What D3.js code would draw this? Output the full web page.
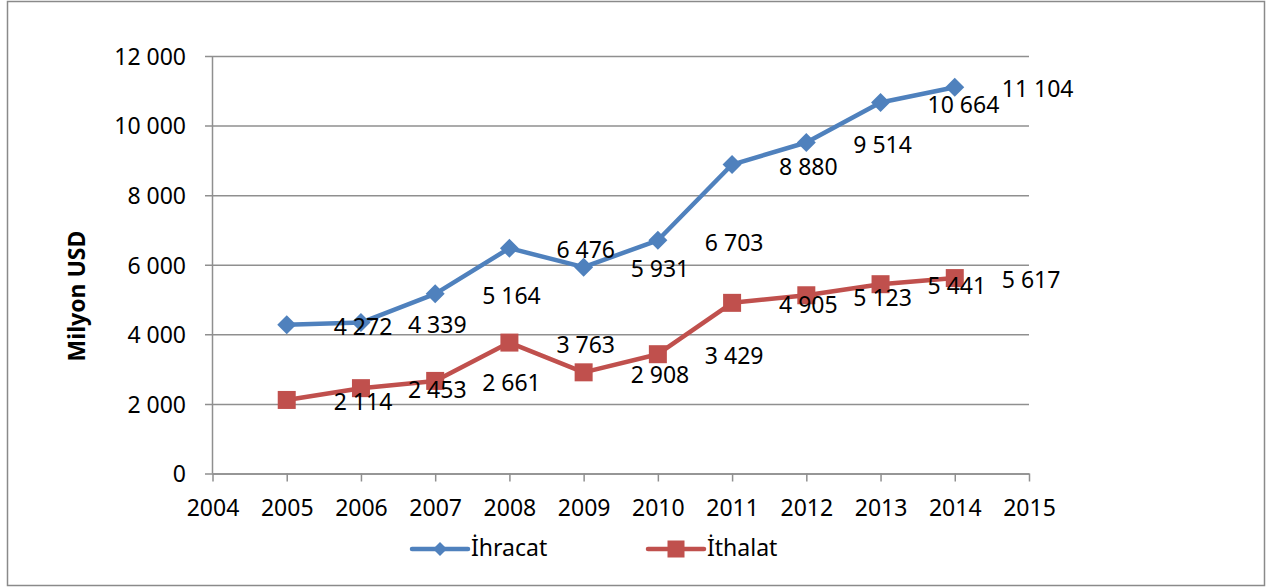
<!DOCTYPE html>
<html><head><meta charset="utf-8">
<script src="https://cdn.jsdelivr.net/npm/d3@7"></script>
<style>
html,body{margin:0;padding:0;background:#fff;}
svg text{font-family:"Noto Sans","Open Sans",sans-serif;fill:#000;}
</style></head>
<body>
<svg id="c" width="1266" height="587"></svg>
<script>
const years = [2005,2006,2007,2008,2009,2010,2011,2012,2013,2014];
const ihracat = [4272,4339,5164,6476,5931,6703,8880,9514,10664,11104];
const ithalat = [2114,2453,2661,3763,2908,3429,4905,5123,5441,5617];
const xTicks = [2004,2005,2006,2007,2008,2009,2010,2011,2012,2013,2014,2015];
const yTicks = [0,2000,4000,6000,8000,10000,12000];
const seriesNames = ["İhracat","İthalat"];
const yTitle = "Milyon USD";

(function(){
const svg = d3.select("#c");
const fmt = d3.formatLocale({decimal:",",thousands:" ",grouping:[3],currency:["",""]}).format(",d");
const pLeft = 212.5, pRight = 1029, pTop = 56, pBottom = 473.5;
const x = d3.scaleLinear().domain([2004,2015]).range([pLeft,pRight]);
const y = d3.scaleLinear().domain([0,12000]).range([pBottom,pTop]);
const gridColor = "#8f8f8f";
const blue = "#4F81BD", red = "#C0504D";
const fs = "23px";

// outer border
svg.append("rect").attr("x",7.5).attr("y",1.5).attr("width",1257).attr("height",584)
  .attr("fill","none").attr("stroke","#8a8a8a").attr("stroke-width",1.5);

// y grid + labels
const gy = svg.append("g").attr("transform",`translate(${pRight},0)`)
  .call(d3.axisLeft(y).tickValues(yTicks).tickSize(pRight-205).tickPadding(19).tickFormat(fmt));
gy.select(".domain").remove();
gy.selectAll("line").attr("stroke",gridColor).attr("stroke-width",1.5);
gy.selectAll("text").style("font-size",fs).attr("dy","0.36em");

// y axis line
svg.append("line").attr("x1",pLeft).attr("x2",pLeft).attr("y1",pTop).attr("y2",pBottom)
  .attr("stroke",gridColor).attr("stroke-width",1.5);

// x axis
const gx = svg.append("g").attr("transform",`translate(0,${pBottom})`)
  .call(d3.axisBottom(x).tickValues(xTicks).tickSizeInner(8).tickSizeOuter(0).tickPadding(18).tickFormat(d3.format("d")));
gx.select(".domain").attr("stroke",gridColor).attr("stroke-width",1.5);
gx.selectAll("line").attr("stroke",gridColor).attr("stroke-width",1.5);
gx.selectAll("text").style("font-size",fs);

// y title
svg.append("text").attr("transform","translate(85,296) rotate(-90)")
  .attr("text-anchor","middle").style("font-size","23px").style("font-weight","bold").text(yTitle);

const line = d3.line().x((d,i)=>x(years[i])).y(d=>y(d));
const diamond = (cx,cy,r)=>`M${cx},${cy-r}L${cx+r},${cy}L${cx},${cy+r}L${cx-r},${cy}Z`;

function drawSeries(vals,color,shape){
  svg.append("path").datum(vals).attr("d",line).attr("fill","none")
    .attr("stroke",color).attr("stroke-width",4.5).attr("stroke-linejoin","round");
  const g = svg.append("g");
  vals.forEach((v,i)=>{
    const cx = x(years[i]), cy = y(v);
    if(shape==="diamond") g.append("path").attr("d",diamond(cx,cy,9.5)).attr("fill",color);
    else g.append("rect").attr("x",cx-9).attr("y",cy-9).attr("width",18).attr("height",18).attr("fill",color);
  });
  const lg = svg.append("g");
  vals.forEach((v,i)=>{
    lg.append("text").attr("x",x(years[i])+47).attr("y",y(v)+2).attr("dy","0.36em")
      .style("font-size",fs).text(fmt(v));
  });
}
drawSeries(ihracat,blue,"diamond");
drawSeries(ithalat,red,"square");

// legend
const legend = [{name:seriesNames[0],color:blue,shape:"diamond",x0:412},{name:seriesNames[1],color:red,shape:"square",x0:648}];
legend.forEach(l=>{
  const ly = 549;
  svg.append("line").attr("x1",l.x0).attr("x2",l.x0+56).attr("y1",ly).attr("y2",ly)
    .attr("stroke",l.color).attr("stroke-width",4.5).attr("stroke-linecap","round");
  const cx = l.x0+28;
  if(l.shape==="diamond") svg.append("path").attr("d",diamond(cx,ly,7)).attr("fill",l.color);
  else svg.append("rect").attr("x",cx-8.5).attr("y",ly-8.5).attr("width",17).attr("height",17).attr("fill",l.color);
  svg.append("text").attr("x",l.x0+59).attr("y",556).style("font-size",fs).text(l.name);
});
})();
</script>
</body></html>
